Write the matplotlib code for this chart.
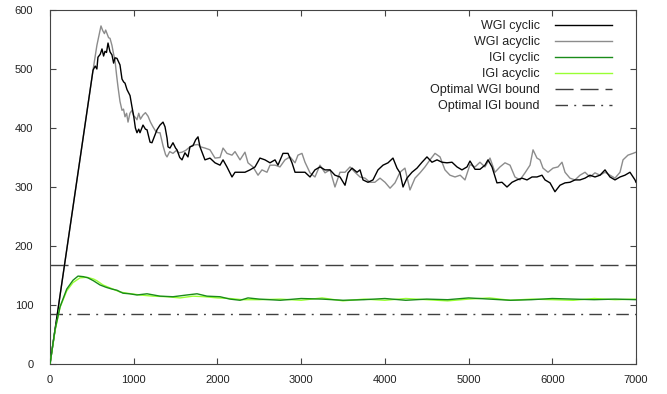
import matplotlib
matplotlib.use("Agg")
import matplotlib.pyplot as plt

# ---------------- data ----------------
wgi_cyc_x = [0, 514, 540, 560, 573, 600, 621, 640, 657, 675, 693, 717, 740, 760, 776, 800, 836, 860, 880, 896,
             920, 956, 979, 1000, 1020, 1039, 1060, 1075, 1111, 1140, 1159, 1195, 1218, 1240, 1278, 1314, 1350,
             1374, 1398, 1410, 1433, 1469, 1500, 1517, 1550, 1577, 1612, 1648, 1672, 1708, 1740, 1768, 1792,
             1851, 1911, 1971, 2031, 2067, 2114, 2174, 2210, 2270, 2329, 2389, 2449, 2508, 2568, 2628, 2688,
             2723, 2783, 2843, 2891, 2927, 2986, 3046, 3106, 3165, 3225, 3285, 3345, 3404, 3464, 3524, 3560,
             3608, 3667, 3703, 3739, 3799, 3858, 3918, 3978, 4038, 4097, 4145, 4181, 4217, 4264, 4324, 4384,
             4444, 4503, 4563, 4623, 4683, 4742, 4802, 4862, 4921, 4981, 5017, 5077, 5136, 5196, 5232, 5280,
             5339, 5399, 5459, 5519, 5578, 5638, 5698, 5758, 5817, 5877, 5913, 5973, 6032, 6092, 6152, 6211,
             6271, 6331, 6391, 6450, 6510, 6570, 6630, 6689, 6749, 6809, 6868, 6928, 6988, 7000]
wgi_cyc_y = [0, 498, 505, 500, 520, 525, 534, 522, 530, 528, 544, 529, 524, 510, 519, 518, 507, 483, 478, 476,
             465, 455, 436, 420, 400, 392, 398, 392, 405, 398, 397, 376, 375, 383, 397, 405, 410,
             402, 383, 368, 366, 375, 366, 363, 350, 346, 358, 351, 368, 370, 380, 385, 368,
             346, 349, 341, 337, 346, 334, 317, 325, 325, 325, 329, 334, 349, 346, 341, 346,
             337, 357, 357, 341, 325, 325, 325, 317, 329, 334, 329, 329, 320, 317, 303, 324,
             332, 325, 329, 312, 308, 312, 329, 337, 341, 349, 332, 324, 300, 315, 325, 332,
             342, 351, 342, 346, 342, 341, 342, 334, 329, 334, 344, 330, 330, 337, 346, 334,
             307, 308, 300, 308, 312, 315, 312, 317, 317, 320, 312, 307, 292, 303, 307, 308,
             312, 312, 315, 320, 317, 320, 329, 317, 312, 317, 320, 325, 312, 308]

wgi_acyc_x = [0, 514, 560, 590, 609, 630, 650, 665, 681, 700, 717, 740, 760, 776, 795, 812, 836, 860, 878, 896,
              915, 932, 955, 979, 1000, 1020, 1039, 1060, 1080, 1111, 1140, 1171, 1200, 1230, 1260, 1290, 1314,
              1350, 1380, 1398, 1430, 1469, 1510, 1540, 1577, 1620, 1672, 1708, 1768, 1800, 1851, 1911, 1971,
              2031, 2067, 2114, 2174, 2210, 2270, 2329, 2365, 2425, 2485, 2532, 2592, 2628, 2688, 2747, 2807,
              2867, 2927, 2962, 3010, 3046, 3106, 3165, 3225, 3285, 3345, 3380, 3404, 3464, 3524, 3584, 3643,
              3703, 3763, 3822, 3880, 3942, 4002, 4062, 4121, 4181, 4240, 4300, 4360, 4420, 4479, 4539, 4599,
              4659, 4718, 4778, 4838, 4900, 4957, 5017, 5077, 5136, 5196, 5256, 5315, 5375, 5435, 5495, 5554,
              5614, 5674, 5734, 5770, 5817, 5853, 5889, 5949, 6009, 6068, 6116, 6152, 6211, 6271, 6331, 6391,
              6450, 6510, 6570, 6630, 6689, 6749, 6809, 6845, 6904, 6964, 7000]
wgi_acyc_y = [0, 498, 540, 560, 573, 565, 560, 566, 560, 553, 552, 540, 525, 515, 490, 470, 445, 430, 432, 419,
              425, 410, 425, 430, 420, 418, 414, 425, 415, 422, 426, 420, 410, 402, 395, 392, 392,
              370, 355, 351, 360, 357, 362, 358, 359, 362, 368, 371, 372, 368, 366, 363, 349,
              350, 366, 357, 354, 360, 346, 359, 341, 334, 320, 329, 325, 337, 337, 334, 346,
              351, 341, 354, 357, 342, 324, 317, 337, 324, 329, 312, 300, 325, 325, 334, 325,
              317, 315, 308, 308, 315, 308, 298, 307, 325, 332, 295, 315, 324, 334, 346, 357,
              351, 329, 320, 317, 320, 312, 338, 334, 342, 334, 349, 325, 334, 341, 337, 317,
              312, 324, 337, 363, 349, 346, 332, 325, 332, 334, 342, 325, 315, 312, 320, 325,
              317, 324, 320, 325, 320, 315, 325, 346, 354, 357, 359]

igi_cyc_x = [0, 60, 120, 200, 275, 335, 400, 454, 520, 597, 670, 740, 800, 872, 950, 1039, 1159, 1314, 1469,
             1636, 1756, 1875, 2031, 2150, 2270, 2365, 2500, 2750, 3000, 3250, 3500, 3750, 4000, 4250, 4500,
             4750, 5000, 5250, 5500, 5750, 6000, 6250, 6500, 6750, 7000]
igi_cyc_y = [0, 58, 97, 127, 142, 149, 148, 146, 141, 134, 130, 127, 125, 120, 119, 117, 119, 115, 114,
             117, 119, 115, 114, 110, 108, 112, 110, 108, 111, 110, 108, 109, 111, 108, 110,
             109, 112, 110, 108, 109, 111, 110, 109, 110, 109]

igi_acyc_x = [0, 60, 120, 200, 275, 358, 442, 520, 561, 633, 700, 752, 836, 920, 1075, 1230, 1398, 1553,
              1708, 1850, 2000, 2150, 2300, 2500, 2750, 3000, 3250, 3500, 3750, 4000, 4250, 4500, 4750,
              5000, 5250, 5500, 5750, 6000, 6250, 6500, 6750, 7000]
igi_acyc_y = [0, 56, 96, 124, 138, 146, 147, 144, 141, 134, 130, 127, 122, 120, 117, 115, 114, 112,
              115, 114, 112, 111, 109, 109, 110, 108, 112, 107, 110, 108, 111, 109, 107,
              110, 112, 108, 110, 109, 108, 111, 109, 110]

wgi_bound = 167
igi_bound = 84

labels = ["WGI cyclic", "WGI acyclic", "IGI cyclic", "IGI acyclic",
          "Optimal WGI bound", "Optimal IGI bound"]
x_ticks = [0, 1000, 2000, 3000, 4000, 5000, 6000, 7000]
y_ticks = [0, 100, 200, 300, 400, 500, 600]

# ---------------- plot ----------------
plt.rcParams['font.family'] = ['Liberation Sans', 'DejaVu Sans']

fig = plt.figure(figsize=(6.67, 3.94), dpi=100)
ax = fig.add_axes([50/667, 30/394, 586/667, 354/394])

bound_col = '#404040'
ax.axhline(wgi_bound, color=bound_col, lw=1.0, dashes=(13, 5), label=labels[4], zorder=1)
ax.axhline(igi_bound, color=bound_col, lw=1.0, dashes=(9, 4.5, 1.4, 4.5), label=labels[5], zorder=1)

ax.plot(wgi_acyc_x, wgi_acyc_y, color='#8c8c8c', lw=1.0, label=labels[1], zorder=2)
ax.plot(wgi_cyc_x, wgi_cyc_y, color='#000000', lw=1.0, label=labels[0], zorder=3)
ax.plot(igi_acyc_x, igi_acyc_y, color='#99ff33', lw=1.0, label=labels[3], zorder=4)
ax.plot(igi_cyc_x, igi_cyc_y, color='#1a8c1a', lw=1.0, label=labels[2], zorder=5)

ax.set_xlim(0, 7000)
ax.set_ylim(0, 600)
ax.set_xticks(x_ticks)
ax.set_yticks(y_ticks)
ax.tick_params(direction='in', length=4, width=0.8, color='#444444',
               top=True, right=True, labelsize=8, labelcolor='#222222')
ax.tick_params(axis='y', pad=12)
ax.tick_params(axis='x', pad=8)
for s in ax.spines.values():
    s.set_color('#444444')
    s.set_linewidth(0.8)

handles, labs = ax.get_legend_handles_labels()
order = [labels.index(l) for l in labs]
hl = sorted(zip(order, handles, labs))
leg = ax.legend([h for _, h, _ in hl], [l for _, _, l in hl],
                loc='upper right', bbox_to_anchor=((613 - 50 + 8) / 586, 1.0 - 1.5 / 354),
                frameon=False, markerfirst=False, fontsize=9,
                handlelength=4.6, handletextpad=1.2, labelspacing=0.32,
                borderaxespad=0.3)
for t in leg.get_texts():
    t.set_color('#222222')

fig.savefig('out.png', dpi=100)
